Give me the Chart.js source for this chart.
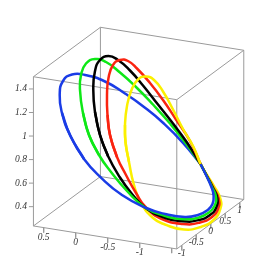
<!DOCTYPE html>
<html><head><meta charset="utf-8">
<style>html,body{margin:0;padding:0;background:#fff;overflow:hidden}canvas{display:block;filter:blur(0.4px)}</style>
<script src="https://cdn.jsdelivr.net/npm/chart.js@4"></script>
</head><body><canvas id="c" width="278" height="278"></canvas>
<script>
// Axis ranges and ticks of the 3D box
const xRange=[0.66,-1.58], yRange=[-1.17,1.14], zRange=[0.236,1.504];
const xTicks=[0.5,0,-0.5,-1,-1.5], xTickLabels=['0.5','0','-0.5','-1',''];
const yTicks=[-1,-0.5,0,0.5,1], yTickLabels=['-1','-0.5','0','0.5','1'];
const zTicks=[0.4,0.6,0.8,1,1.2,1.4], zTickLabels=['0.4','0.6','0.8','1','1.2','1.4'];
// Curves, in the plane of the view.
// "Back" runs from the right crossing over the top and down the left side; "front" carries on round the bottom.
const blueBack=[[200.5,164],[183,142.8],[163.3,123],[145,107.7],[125,93.5],[105,81.5],[85,75],[72,74.5],[63,81],[59.7,95],[62,113],[70,135],[84,159]];
const blueFront=[[62,113],[70,135],[84,159],[101.7,178.3],[122,195],[145,207.5],[165,214],[185,217],[198,215],[207,210.5],[212.5,204],[213.5,195],[211,186],[206,175],[200.5,164]];
const greenBack=[[200.5,164],[186,143.5],[170,123.5],[153,104.5],[136,87],[120,72.5],[106,62],[95,59],[86,63.5],[81,75],[80,90],[83,113],[89,135],[99,155]];
const greenFront=[[83,113],[89,135],[99,155],[111,172],[127,191],[145,207.5],[164,215.5],[184,219.2],[199,217.5],[209,212.5],[214.5,206],[216,197],[212,187],[206.2,175],[200.5,164]];
const blackBack=[[200.5,164],[187,142.5],[173,123.5],[158,104.5],[143,85.5],[130,70.5],[118,60],[108.5,56],[100,60],[95,71],[93.3,90],[95,112],[100,135],[108,156]];
const blackFront=[[95,112],[100,135],[108,156],[120,177.5],[132,194],[145,207.5],[163,217],[183,221.3],[199,220],[210,215],[216,208],[217.3,198],[212.5,187],[206.3,175],[200.5,164]];
const redBack=[[200.5,164],[190,141],[176,119.5],[163,100],[150,83],[137,68.5],[128,61],[120,60],[113,65],[108.5,78],[107,95],[107.5,115],[110,135],[117,157]];
const redFront=[[107.5,115],[110,135],[117,157],[126,175],[136,193],[146,207.5],[162,219],[183,224],[200,222.5],[212,217],[218,209],[218.8,199],[213,187],[206.5,175],[200.5,164]];
const yellowBack=[[200.5,164],[193,146],[183,129],[173,109.5],[163,91.5],[154,80],[146,76.5],[138,79.5],[131.5,90],[127,106],[125,125],[125.5,142],[129,162]];
const yellowFront=[[125,125],[125.5,142],[129,162],[134,185],[141,203],[153,218],[165,224.5],[184,229.5],[202,226.5],[214,219.5],[220.3,209],[220.5,199],[214,186],[207,175],[200.5,164]];
const BOX='#9a9a9a';
function project(x,y,z){return {x:109.6+(-64)*x+29*y, y:207.7-10.26*x-21.4*y-117.7*(z-zRange[0])};}
const [x0,x1]=xRange,[y0,y1]=yRange,[z0,z1]=zRange;
const edges=[
 [project(x0,y0,z0),project(x1,y0,z0)],[project(x1,y0,z0),project(x1,y1,z0)],
 [project(x1,y1,z0),project(x0,y1,z0)],[project(x0,y1,z0),project(x0,y0,z0)],
 [project(x0,y0,z1),project(x1,y0,z1)],[project(x1,y0,z1),project(x1,y1,z1)],
 [project(x1,y1,z1),project(x0,y1,z1)],[project(x0,y1,z1),project(x0,y0,z1)],
 [project(x0,y0,z0),project(x0,y0,z1)],[project(x1,y0,z0),project(x1,y0,z1)],
 [project(x1,y1,z0),project(x1,y1,z1)],[project(x0,y1,z0),project(x0,y1,z1)]
];
const texts=[];const datasets=[];let ord=1000;
function addLine(points,color,width,tension){
  datasets.push({data:points,borderColor:color,borderWidth:width,pointRadius:0,tension:tension,
    fill:false,order:ord--,borderCapStyle:'butt',borderJoinStyle:'round',showLine:true});
}
edges.forEach(e=>addLine(e,BOX,1,0));
xTicks.forEach((v,i)=>{const p=project(v,y0,z0);addLine([p,{x:p.x,y:p.y+5}],BOX,1,0);
  texts.push({x:p.x,y:p.y+9.8,t:xTickLabels[i],a:'center'});});
yTicks.forEach((v,i)=>{const p=project(x1,v,z0);addLine([p,{x:p.x,y:p.y+5}],BOX,1,0);
  texts.push({x:p.x,y:p.y+8,t:yTickLabels[i],a:'center'});});
zTicks.forEach((v,i)=>{const p=project(x0,y0,v);addLine([p,{x:p.x-4.5,y:p.y}],BOX,1,0);
  texts.push({x:p.x-6.5,y:p.y,t:zTickLabels[i],a:'right'});});
const C={blue:'#1a3ce6',green:'#0ee816',black:'#000000',red:'#fa2410',yellow:'#fbf000'};
const toPts=a=>a.map(p=>({x:p[0],y:p[1]}));
const W=2.5,T=0.5;
[[yellowFront,C.yellow],[redFront,C.red],[blackFront,C.black],[greenFront,C.green],[blueFront,C.blue],
 [blueBack,C.blue],[greenBack,C.green],[blackBack,C.black],[redBack,C.red],[yellowBack,C.yellow]]
 .forEach(r=>addLine(toPts(r[0]),r[1],W,T));
const labelPlugin={id:'labels',afterDraw(ch){
  const g=ch.ctx,sx=ch.scales.x,sy=ch.scales.y;g.save();
  g.font='italic 9.5px "Liberation Serif"';g.fillStyle='#333';g.textBaseline='middle';
  texts.forEach(o=>{g.textAlign=o.a;g.fillText(o.t,sx.getPixelForValue(o.x),sy.getPixelForValue(o.y));});
  g.restore();}};
new Chart(document.getElementById('c'),{type:'scatter',data:{datasets},plugins:[labelPlugin],
 options:{responsive:false,animation:false,devicePixelRatio:1,layout:{padding:0},
  plugins:{legend:{display:false},tooltip:{enabled:false}},
  scales:{x:{type:'linear',min:0,max:278,display:false},y:{type:'linear',min:0,max:278,reverse:true,display:false}}}});
</script></body></html>
